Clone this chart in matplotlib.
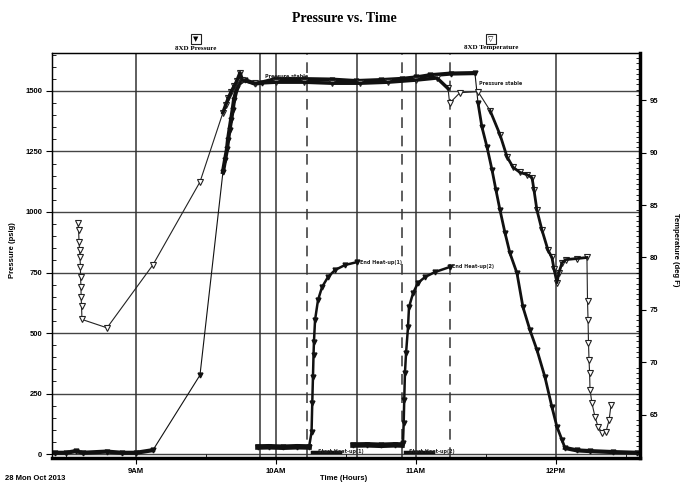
import numpy as np
import matplotlib.pyplot as plt
from matplotlib.ticker import MultipleLocator

# times are decimal hours (9.5 = 9:30)
press_t = [8.42, 8.50, 8.57, 8.62, 8.79, 8.90, 9.00, 9.121, 9.457, 9.621, 9.636, 9.65, 9.657, 9.668,
           9.679, 9.69, 9.70, 9.721, 9.743, 9.779, 9.85, 9.90, 10.0, 10.2, 10.4, 10.57, 10.75, 10.9,
           11.0, 11.1, 11.25, 11.421, 11.443, 11.471, 11.507, 11.543, 11.571, 11.60, 11.636, 11.671,
           11.721, 11.764, 11.814, 11.864, 11.921, 11.971, 12.007, 12.043, 12.064, 12.15, 12.243,
           12.407, 12.58]
press_psig = [5, 5, 12, 5, 10, 5, 5, 16, 326, 1165, 1215, 1260, 1297, 1340, 1380, 1420, 1463, 1512,
              1537, 1545, 1530, 1535, 1550, 1549, 1547, 1541, 1545, 1550, 1556, 1565, 1572, 1574,
              1450, 1351, 1269, 1174, 1091, 1008, 913, 830, 748, 607, 512, 430, 318, 194, 112, 58,
              25, 15, 12, 8, 5]

temp_t = [8.586, 8.590, 8.593, 8.597, 8.600, 8.603, 8.604, 8.607, 8.608, 8.611, 8.614, 8.793, 9.121,
          9.457, 9.621, 9.64, 9.66, 9.68, 9.70, 9.72, 9.743, 9.76, 9.85, 10.0, 10.2, 10.4, 10.6,
          10.8, 11.0, 11.15, 11.229, 11.24, 11.314, 11.443, 11.529, 11.60, 11.65, 11.693, 11.743,
          11.793, 11.829, 11.843, 11.864, 11.90, 11.943, 11.971, 11.986, 12.007, 12.02, 12.043,
          12.07, 12.15, 12.221, 12.225, 12.229, 12.232, 12.236, 12.24, 12.243, 12.257, 12.279,
          12.30, 12.329, 12.357, 12.379, 12.393]
temp_f = [83.3, 82.6, 81.5, 80.7, 80.0, 79.1, 78.1, 77.2, 76.2, 75.4, 74.1, 73.3, 79.3, 87.2, 93.8,
          94.5, 95.2, 95.8, 96.3, 96.8, 97.6, 96.9, 96.6, 96.7, 96.7, 96.6, 96.6, 96.7, 96.9, 97.1,
          96.1, 94.7, 95.7, 95.8, 94.0, 91.7, 89.6, 88.6, 88.1, 87.9, 87.6, 86.4, 84.5, 82.6, 80.7,
          80.0, 78.9, 77.6, 78.5, 79.5, 79.8, 79.9, 80.0, 75.9, 74.0, 71.9, 70.2, 69.0, 67.4, 66.1,
          64.8, 63.9, 63.3, 63.4, 64.5, 65.95]

heat1_t = [9.871, 9.95, 10.05, 10.15, 10.236, 10.254, 10.259, 10.264, 10.268, 10.271, 10.279, 10.30,
           10.329, 10.371, 10.421, 10.493, 10.579]
heat1_psig = [29, 30, 28, 30, 29, 91, 211, 318, 409, 463, 554, 636, 690, 731, 760, 781, 793]
heat2_t = [10.55, 10.65, 10.75, 10.85, 10.90, 10.907, 10.912, 10.916, 10.921, 10.929, 10.943, 10.95,
           10.979, 11.014, 11.064, 11.136, 11.243]
heat2_psig = [37, 38, 36, 38, 37, 45, 128, 223, 335, 417, 525, 607, 665, 707, 731, 752, 773]

hours = [9, 10, 11, 12]
hour_labels = ['9AM', '10AM', '11AM', '12PM']
events_solid = [9.886, 10.58]
events_dashed = [10.221, 10.90, 11.24]

fig = plt.figure(figsize=(6.84, 4.91), dpi=100)
ax = fig.add_axes([52 / 684, 33 / 491, 588 / 684, 405 / 491])
ax2 = ax.twinx()

ax.set_xlim(8.4, 12.6)
ax.set_ylim(-16.5, 1657)
ax2.set_ylim(60.9, 99.48)

# grid + event lines
for v in [0, 250, 500, 750, 1000, 1250, 1500]:
    ax.axhline(v, color='#444444', lw=1.0, zorder=1)
for h in hours:
    ax.axvline(h, color='#333333', lw=1.1, zorder=1)
for e in events_solid:
    ax.axvline(e, color='#333333', lw=1.1, zorder=1)
for e in events_dashed:
    ax.axvline(e, color='#333333', lw=1.1, ls=(0, (7, 5)), zorder=1)

# pressure
ax.plot(press_t, press_psig, color='#111111', lw=0.8, marker='v', ms=3.5, mfc='#111111', zorder=4)
ax.plot(press_t[9:32], press_psig[9:32], color='#111111', lw=3, zorder=4)
ax.plot(press_t[32:49], press_psig[32:49], color='#111111', lw=2, zorder=4)
ax.plot(press_t[:8], press_psig[:8], color='#111111', lw=3, zorder=4)
ax.plot(press_t[48:], press_psig[48:], color='#111111', lw=3, zorder=4)

# heat-up
for tt, pp in [(heat1_t, heat1_psig), (heat2_t, heat2_psig)]:
    ax.plot(tt, pp, color='#111111', lw=1.8, marker='v', ms=3.5, zorder=4)
    ax.plot(tt[:5], pp[:5], color='#111111', lw=4, zorder=4)
ax.plot([10.26, 10.46], [10, 10], color='#111111', lw=2.5, zorder=4)
ax.plot([10.92, 11.12], [10, 10], color='#111111', lw=2.5, zorder=4)

# temperature
ax2.plot(temp_t, temp_f, color='#222222', lw=0.8, marker='v', ms=4.5, mfc='white', mew=0.8, zorder=5)
ax2.plot(temp_t[14:31], temp_f[14:31], color='#111111', lw=2.5, zorder=5)
ax2.plot(temp_t[34:53], temp_f[34:53], color='#111111', lw=2, zorder=5)

small = dict(fontsize=3.5, fontweight='bold', color='#222222', zorder=6)
ax.text(10.60, 793, 'End Heat-up(1)', va='center', **small)
ax.text(11.26, 773, 'End Heat-up(2)', va='center', **small)
ax.text(9.92, 1560, 'Pressure stable', va='center', **small)
ax.text(11.45, 1530, 'Pressure stable', va='center', **small)
ax.text(10.30, 12, 'Start Heat-up(1)', va='center', **small)
ax.text(10.95, 12, 'Start Heat-up(2)', va='center', **small)

# ticks
ax.set_xticks(hours)
ax.set_xticklabels(hour_labels)
ax.xaxis.set_minor_locator(MultipleLocator(0.5))
ax.set_yticks([0, 250, 500, 750, 1000, 1250, 1500])
ax.yaxis.set_minor_locator(MultipleLocator(50))
ax2.set_yticks([65, 70, 75, 80, 85, 90, 95])
ax2.yaxis.set_minor_locator(MultipleLocator(0.5))
for a in (ax, ax2):
    a.tick_params(which='major', direction='out', length=4, width=0.8, labelsize=5.5, pad=3)
    a.tick_params(which='minor', direction='in', length=3, width=0.6)
for lab in ax.get_xticklabels() + ax.get_yticklabels() + ax2.get_yticklabels():
    lab.set_fontweight('bold')
    lab.set_family('Liberation Sans')

ax.spines['bottom'].set_linewidth(2.5)
ax2.spines['right'].set_linewidth(2.5)
for s in ('left', 'top'):
    ax.spines[s].set_linewidth(0.9)
    ax2.spines[s].set_linewidth(0.9)

lbl = dict(fontsize=5.5, fontweight='bold', family='Liberation Sans')
fig.text(13 / 684, 1 - 250 / 491, 'Pressure (psig)', rotation=90, ha='center', va='center', **lbl)
fig.text(676 / 684, 1 - 250 / 491, 'Temperature (deg F)', rotation=-90, ha='center', va='center', **lbl)
fig.text(344 / 684, 1 - 478 / 491, 'Time (Hours)', ha='center', va='center', **lbl)
fig.text(5 / 684, 1 - 478 / 491, '28 Mon Oct 2013', ha='left', va='center', **lbl)

fig.text(344 / 684, 1 - 18 / 491, 'Pressure vs. Time', ha='center', va='center',
         fontsize=10, fontweight='bold', family='Liberation Serif')
for x, mk, name in [(196, '\u25bc', '8XD Pressure'), (491, '\u25bd', '8XD Temperature')]:
    fig.text(x / 684, 1 - 39 / 491, mk, ha='center', va='center', fontsize=5,
             bbox=dict(boxstyle='square,pad=0.35', fc='white', ec='#222222', lw=0.8))
    fig.text(x / 684, 1 - 48 / 491, name, ha='center', va='center', fontsize=5,
             fontweight='bold', family='Liberation Serif')

fig.savefig('out.png', dpi=100)
